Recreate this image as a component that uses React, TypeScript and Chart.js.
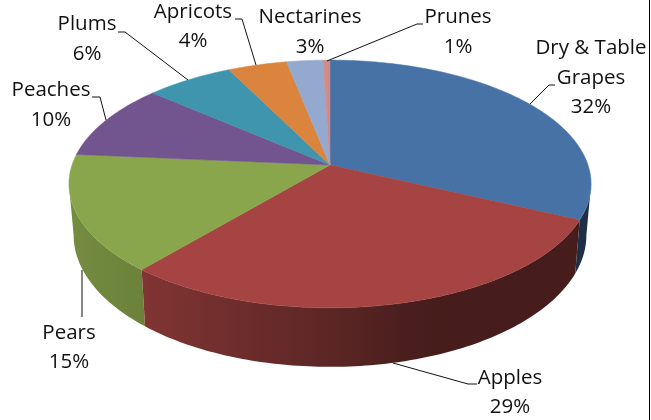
import React, { useEffect, useRef } from "react";
import { Chart, registerables } from "chart.js";

Chart.register(...registerables);

const categories = ["Dry & Table Grapes", "Apples", "Pears", "Peaches", "Plums", "Apricots", "Nectarines", "Prunes"];
const shares = [32, 29.15, 15.25, 9.95, 6.3, 4.25, 2.6, 0.5];
const sliceColors = ["#4672a6", "#a54442", "#8aa64c", "#72548f", "#4095ae", "#db843d", "#93a9cf", "#d18b89"];
const percentLabels = ["32%", "29%", "15%", "10%", "6%", "4%", "3%", "1%"];

// Label layout: text lines, centre x, line centre y's (the last is the percent), leader polyline
const labelLayout: { lines: string[]; x: number; ys: number[]; leader: number[][] }[] = [
  { lines: ["Dry & Table", "Grapes"], x: 591, ys: [48, 78, 107], leader: [[555, 85], [549, 85], [530, 104]] },
  { lines: ["Apples"], x: 510, ys: [378, 407], leader: [[477, 384], [468, 384], [393, 363]] },
  { lines: ["Pears"], x: 69, ys: [333, 362], leader: [[82, 317], [82, 270]] },
  { lines: ["Peaches"], x: 51, ys: [90, 120], leader: [[92, 97], [100, 97], [106, 120]] },
  { lines: ["Plums"], x: 87, ys: [24, 54], leader: [[118, 32], [125, 32], [188, 80]] },
  { lines: ["Apricots"], x: 193, ys: [12, 41], leader: [[235, 19], [242, 19], [256, 65]] },
  { lines: ["Nectarines"], x: 310, ys: [17, 47], leader: [] },
  { lines: ["Prunes"], x: 458, ys: [17, 47], leader: [[423, 24], [417, 24], [327, 61]] },
];

const TILT = 0.153;
const X_RATIO = 2.15;
const Y_RATIO = 1.008;
const DEPTH_RATIO = 0.4167;
const BASE_SHRINK = 0.982;
const FONT = '20.5px "Open Sans", Lato, sans-serif';

const LIGHT_STOPS = [[-1, 0.85], [-0.64, 0.78], [0, 0.56], [0.3, 0.43], [1, 0.42]];

function wallLight(u: number) {
  for (let i = 1; i < LIGHT_STOPS.length; i++) {
    const [u0, l0] = LIGHT_STOPS[i - 1];
    const [u1, l1] = LIGHT_STOPS[i];
    if (u <= u1) return l0 + ((l1 - l0) * (u - u0)) / (u1 - u0);
  }
  return 0.42;
}

function shade(hex: string, k: number) {
  const n = parseInt(hex.slice(1), 16);
  return `rgb(${Math.round(((n >> 16) & 255) * k)},${Math.round(((n >> 8) & 255) * k)},${Math.round((n & 255) * k)})`;
}

const pie3d = {
  id: "pie3d",
  beforeDatasetsDraw(chart: any) {
    const ctx: CanvasRenderingContext2D = chart.ctx;
    const arcs: any[] = chart.getDatasetMeta(0).data;
    const { x: cx, y: cy, outerRadius: R } = arcs[0].getProps(["x", "y", "outerRadius"], true);

    const project = (ang: number, base: boolean) => {
      const u = Math.cos(ang);
      const v = Math.sin(ang);
      const w = 1 - TILT * v;
      const s = base ? BASE_SHRINK : 1;
      const h = base ? R * DEPTH_RATIO : 0;
      return [cx + (s * R * X_RATIO * u) / w, cy + (R * Y_RATIO * v + h) / w];
    };

    ctx.save();

    // Side wall: the front part of each slice only (between the widest points of the ellipse)
    const xLeft = project(Math.PI, false)[0];
    const xRight = project(0, false)[0];
    const edge = Math.asin(TILT);
    const walls: { i: number; a0: number; a1: number; v: number }[] = [];
    arcs.forEach((arc, i) => {
      const { startAngle, endAngle } = arc.getProps(["startAngle", "endAngle"], true);
      const a0 = Math.max(startAngle, edge);
      const a1 = Math.min(endAngle, Math.PI - edge);
      if (a1 <= a0) return;
      walls.push({ i, a0, a1, v: Math.sin((a0 + a1) / 2) });
    });
    walls.sort((p, q) => p.v - q.v);
    for (const wall of walls) {
      const n = Math.max(2, Math.ceil(((wall.a1 - wall.a0) * 180) / Math.PI));
      ctx.beginPath();
      for (let k = 0; k <= n; k++) {
        const [x, y] = project(wall.a0 + ((wall.a1 - wall.a0) * k) / n, false);
        if (k) ctx.lineTo(x, y);
        else ctx.moveTo(x, y);
      }
      for (let k = n; k >= 0; k--) {
        const [x, y] = project(wall.a0 + ((wall.a1 - wall.a0) * k) / n, true);
        ctx.lineTo(x, y);
      }
      ctx.closePath();
      const grad = ctx.createLinearGradient(xLeft, 0, xRight, 0);
      for (let deg = 180; deg >= 0; deg -= 5) {
        const ang = (deg * Math.PI) / 180;
        const t = (project(ang, false)[0] - xLeft) / (xRight - xLeft);
        grad.addColorStop(Math.min(1, Math.max(0, t)), shade(sliceColors[wall.i], wallLight(Math.cos(ang))));
      }
      ctx.fillStyle = grad;
      ctx.fill();
    }

    // Top faces
    arcs.forEach((arc, i) => {
      const { startAngle, endAngle } = arc.getProps(["startAngle", "endAngle"], true);
      const n = Math.max(2, Math.ceil(((endAngle - startAngle) * 180) / Math.PI));
      ctx.beginPath();
      ctx.moveTo(cx, cy);
      for (let k = 0; k <= n; k++) {
        const [x, y] = project(startAngle + ((endAngle - startAngle) * k) / n, false);
        ctx.lineTo(x, y);
      }
      ctx.closePath();
      ctx.fillStyle = sliceColors[i];
      ctx.strokeStyle = sliceColors[i];
      ctx.lineWidth = 0.5;
      ctx.fill();
      ctx.stroke();
    });

    // Leaders and labels
    ctx.strokeStyle = "#111";
    ctx.lineWidth = 1;
    ctx.fillStyle = "#111";
    ctx.font = FONT;
    ctx.textAlign = "center";
    ctx.textBaseline = "middle";
    labelLayout.forEach((lab, i) => {
      if (lab.leader.length) {
        ctx.beginPath();
        lab.leader.forEach(([x, y], j) => (j ? ctx.lineTo(x, y) : ctx.moveTo(x, y)));
        ctx.stroke();
      }
      const texts = [...lab.lines, percentLabels[i]];
      texts.forEach((t, j) => ctx.fillText(t, lab.x, lab.ys[j]));
    });

    // Right frame line
    ctx.fillStyle = "#000";
    ctx.fillRect(649, 0, 1, 420);
    ctx.restore();
    return false;
  },
};

export default function App() {
  const ref = useRef<HTMLCanvasElement>(null);
  useEffect(() => {
    const chart = new Chart(ref.current!, {
      type: "pie",
      data: { labels: categories, datasets: [{ data: shares, backgroundColor: sliceColors, borderWidth: 0 }] },
      options: {
        responsive: false,
        animation: false,
        devicePixelRatio: 1,
        layout: { padding: { left: 210, right: 201, top: 45, bottom: 135 } },
        plugins: { legend: { display: false }, tooltip: { enabled: false } },
      },
      plugins: [pie3d],
    } as any);
    return () => chart.destroy();
  }, []);
  return (
    <canvas
      ref={ref}
      width={651}
      height={420}
      style={{ position: "fixed", left: 0, top: 0, width: 651, height: 420, background: "#fff" }}
    />
  );
}
